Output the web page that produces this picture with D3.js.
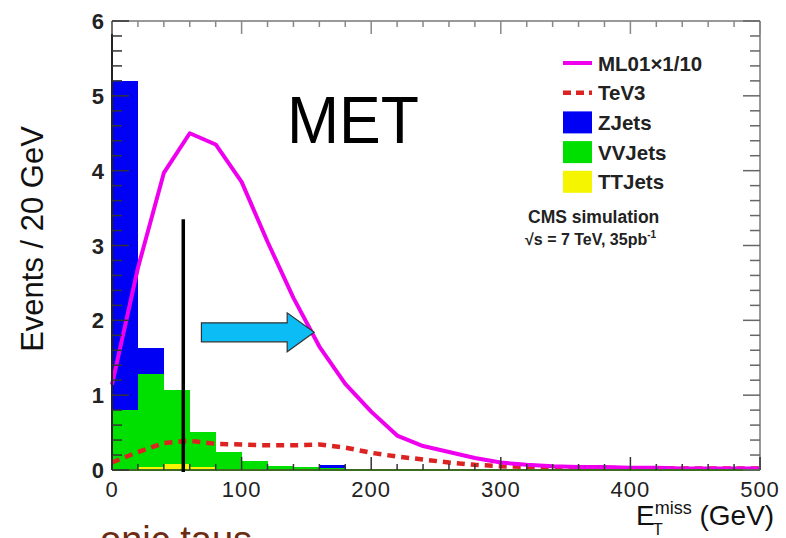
<!DOCTYPE html>
<html><head><meta charset="utf-8">
<script src="https://cdn.jsdelivr.net/npm/d3@7"></script>
<style>body{margin:0;background:#fff}svg{display:block}text{font-family:"Liberation Sans",Arial,sans-serif}</style>
</head><body>
<svg id="c" width="786" height="538"></svg>
<script>
// ---- data ----
const binStarts = [0,20,40,60,80,100,120,140,160,180,200,220,240,260,280,300,320,340,360,380,400,420,440,460,480];
const binWidth = 20;
const ttJets = [0.01,0.04,0.08,0.04,0.01,0,0,0,0,0,0,0,0,0,0,0,0,0,0,0,0,0,0,0,0];
const vvJets = [0.79,1.24,0.99,0.47,0.23,0.12,0.06,0.04,0.03,0.01,0,0,0,0,0,0,0,0,0,0,0,0,0,0,0];
const zJets  = [4.40,0.35,0,0,0,0,0,0,0.04,0,0,0,0,0,0,0,0,0,0,0,0,0,0,0,0];
const curveX = [0,20,40,60,80,100,120,140,160,180,200,220,240,260,280,300,320,340,360,380,400,420,440,460,480,500];
const ml01 = [1.14,2.70,3.97,4.50,4.35,3.85,3.05,2.30,1.65,1.15,0.78,0.46,0.32,0.24,0.16,0.10,0.07,0.05,0.04,0.04,0.03,0.03,0.02,0.02,0.02,0.02];
const tev3 = [0.10,0.24,0.36,0.39,0.35,0.34,0.33,0.33,0.34,0.30,0.23,0.18,0.14,0.10,0.07,0.05,0.04,0.03,0.03,0.03,0.02,0.02,0.02,0.02,0.02,0.02];
const xTicks = [0,100,200,300,400,500];
const yTicks = [0,1,2,3,4,5,6];
const legendItems = [
  {label:"ML01\u00d71/10", type:"line", color:"#ee00ee"},
  {label:"TeV3", type:"dash", color:"#dd2222"},
  {label:"ZJets", type:"box", color:"#0000f5"},
  {label:"VVJets", type:"box", color:"#00e000"},
  {label:"TTJets", type:"box", color:"#f5f500"}
];
const cutValue = 55, cutTop = 3.35;
const arrowFrom = 69, arrowTo = 156, arrowY = 1.84;

// ---- layout ----
const svg = d3.select("#c");
const x = d3.scaleLinear().domain([0,500]).range([112,760]);
const y = d3.scaleLinear().domain([0,6]).range([470,21]);

// stacked histogram
const stackData = binStarts.map((b,i)=>({b, tt:ttJets[i], vv:vvJets[i], z:zJets[i]}));
const stack = d3.stack().keys(["tt","vv","z"])(stackData);
const colors = {tt:"#f5f500", vv:"#00e000", z:"#0000f5"};
stack.forEach(layer=>{
  svg.append("g").selectAll("rect").data(layer.filter(d=>d[1]-d[0]>0)).join("rect")
    .attr("x",d=>x(d.data.b)).attr("width",d=>x(d.data.b+binWidth)-x(d.data.b))
    .attr("y",d=>y(d[1])).attr("height",d=>y(d[0])-y(d[1]))
    .attr("fill",colors[layer.key]).attr("shape-rendering","crispEdges");
});

// curves
const line = d3.line().x((d,i)=>x(curveX[i])).y(d=>y(d));
svg.append("path").datum(tev3).attr("d",line).attr("fill","none")
  .attr("stroke","#dd2222").attr("stroke-width",4.5).attr("stroke-dasharray","8,6");
svg.append("path").datum(ml01).attr("d",line).attr("fill","none")
  .attr("stroke","#ee00ee").attr("stroke-width",4).attr("stroke-linejoin","round");

// frame
svg.append("line").attr("x1",x(0)).attr("x2",x(500)).attr("y1",y(6)).attr("y2",y(6)).attr("stroke","#999").attr("stroke-width",2);
svg.append("line").attr("x1",x(500)).attr("x2",x(500)).attr("y1",y(6)).attr("y2",y(0)).attr("stroke","#999").attr("stroke-width",2);
svg.append("line").attr("x1",x(0)).attr("x2",x(500)).attr("y1",y(0)).attr("y2",y(0)).attr("stroke","#3d6b22").attr("stroke-width",2);
svg.append("line").attr("x1",x(0)).attr("x2",x(0)).attr("y1",y(6)).attr("y2",y(0)).attr("stroke","#222").attr("stroke-width",2);

// ticks
const xMinor = d3.range(0,501,20), yMinor = d3.range(0,6.01,0.2);
const tk = svg.append("g").attr("stroke","#333").attr("stroke-width",1.5);
xMinor.forEach(v=>{
  const major = Math.abs(v%100)<1e-6;
  const L = major?13:6;
  tk.append("line").attr("x1",x(v)).attr("x2",x(v)).attr("y1",y(0)).attr("y2",y(0)-L);
  tk.append("line").attr("x1",x(v)).attr("x2",x(v)).attr("y1",y(6)).attr("y2",y(6)+L).attr("stroke","#888");
});
yMinor.forEach(v=>{
  const major = Math.abs(v-Math.round(v))<1e-6;
  const L = major?17:10;
  tk.append("line").attr("y1",y(v)).attr("y2",y(v)).attr("x1",x(0)).attr("x2",x(0)+L);
  tk.append("line").attr("y1",y(v)).attr("y2",y(v)).attr("x1",x(500)).attr("x2",x(500)-L).attr("stroke","#666");
});

// tick labels
svg.append("g").selectAll("text").data(xTicks).join("text")
  .attr("x",d=>x(d)).attr("y",497).attr("text-anchor","middle")
  .attr("font-size",22).attr("letter-spacing","1px").attr("fill","#222").text(d=>d);
svg.append("g").selectAll("text").data(yTicks).join("text")
  .attr("x",104).attr("y",d=>y(d)+8).attr("text-anchor","end")
  .attr("font-size",22).attr("font-weight","bold").attr("fill","#222").text(d=>d);

// axis titles
svg.append("text").attr("transform","translate(43,239) rotate(-90)").attr("text-anchor","middle")
  .attr("font-size",31).attr("fill","#111").text("Events / 20 GeV");
const xt = svg.append("text").attr("x",636).attr("y",525).attr("font-size",28).attr("fill","#111");
xt.append("tspan").text("E");
xt.append("tspan").attr("font-size",18).attr("dy",-11).text("miss");
xt.append("tspan").attr("dy",11).text(" (GeV)");
svg.append("text").attr("x",653).attr("y",535).attr("font-size",16).attr("fill","#111").text("T");

// MET
svg.append("text").attr("x",287).attr("y",143).attr("font-size",66).attr("textLength",132)
  .attr("lengthAdjust","spacingAndGlyphs").attr("fill","#000").text("MET");

// cut line
svg.append("line").attr("x1",x(cutValue)).attr("x2",x(cutValue)).attr("y1",y(cutTop)).attr("y2",y(0)+2)
  .attr("stroke","#000").attr("stroke-width",3.5);

// arrow
const ax0 = x(arrowFrom), ax1 = x(arrowTo), ay = y(arrowY);
const hb = 9.5, hh = 19.5, hl = 27;
svg.append("path").attr("d",`M${ax0},${ay-hb}L${ax1-hl},${ay-hb}L${ax1-hl},${ay-hh}L${ax1},${ay}L${ax1-hl},${ay+hh}L${ax1-hl},${ay+hb}L${ax0},${ay+hb}Z`)
  .attr("fill","#0bbcf5").attr("stroke","#333").attr("stroke-width",1.2);

// legend
const lg = svg.append("g");
legendItems.forEach((d,i)=>{
  const cy = 63 + i*29.7;
  if(d.type==="line") lg.append("line").attr("x1",563).attr("x2",592).attr("y1",cy).attr("y2",cy).attr("stroke",d.color).attr("stroke-width",4);
  else if(d.type==="dash") lg.append("line").attr("x1",563).attr("x2",592).attr("y1",cy).attr("y2",cy).attr("stroke",d.color).attr("stroke-width",4.5).attr("stroke-dasharray","8,5");
  else lg.append("rect").attr("x",563).attr("y",cy-11).attr("width",29).attr("height",22).attr("fill",d.color);
  lg.append("text").attr("x",598).attr("y",cy+7.5).attr("font-size",20.5).attr("font-weight","bold").attr("fill","#222").text(d.label);
});
svg.append("text").attr("x",528).attr("y",223).attr("font-size",17.5).attr("font-weight","bold").attr("fill","#222").text("CMS simulation");
const s2 = svg.append("text").attr("x",525).attr("y",245).attr("font-size",16).attr("font-weight","bold").attr("fill","#222");
s2.append("tspan").text("\u221as = 7 TeV, 35pb");
s2.append("tspan").attr("font-size",10).attr("dy",-7).text("-1");

// partial caption at bottom
svg.append("text").attr("x",100).attr("y",553).attr("font-size",38)
  .attr("fill","#6b2c12").text("onic taus");
</script>
</body></html>
